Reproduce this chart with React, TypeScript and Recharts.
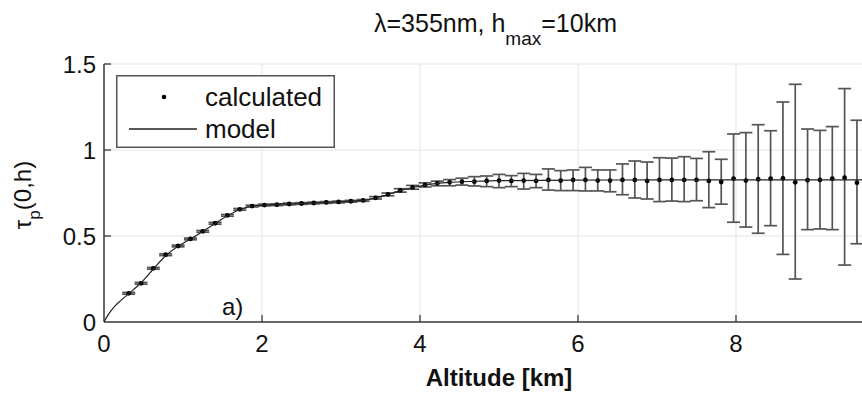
import React from 'react';
import { ComposedChart, Scatter, XAxis, YAxis, CartesianGrid, ErrorBar, Legend } from 'recharts';

// Altitude (km) of each calculated point
const altitudes = [
  0.313, 0.469, 0.625, 0.781, 0.938, 1.094, 1.25, 1.406, 1.563, 1.719,
  1.875, 2.031, 2.188, 2.344, 2.5, 2.656, 2.813, 2.969, 3.125, 3.281,
  3.438, 3.594, 3.75, 3.906, 4.063, 4.219, 4.375, 4.531, 4.688, 4.844,
  5.0, 5.156, 5.313, 5.469, 5.625, 5.781, 5.938, 6.094, 6.25, 6.406,
  6.563, 6.719, 6.875, 7.031, 7.188, 7.344, 7.5, 7.656, 7.813, 7.969,
  8.125, 8.281, 8.438, 8.594, 8.75, 8.906, 9.063, 9.219, 9.375, 9.531,
];

// Calculated optical depth tau_p(0,h)
const tauCalculated = [
  0.167, 0.225, 0.312, 0.391, 0.442, 0.483, 0.527, 0.574, 0.62, 0.655,
  0.674, 0.68, 0.682, 0.686, 0.689, 0.692, 0.695, 0.698, 0.702, 0.707,
  0.722, 0.742, 0.765, 0.783, 0.797, 0.806, 0.812, 0.816, 0.816, 0.82,
  0.822, 0.82, 0.822, 0.82, 0.826, 0.822, 0.826, 0.826, 0.822, 0.822,
  0.826, 0.826, 0.82, 0.826, 0.826, 0.826, 0.826, 0.82, 0.814, 0.833,
  0.822, 0.83, 0.833, 0.835, 0.812, 0.824, 0.826, 0.833, 0.839, 0.81,
];

const errBelow = [
  0.005, 0.005, 0.005, 0.005, 0.005, 0.005, 0.005, 0.005, 0.005, 0.005,
  0.005, 0.005, 0.005, 0.005, 0.005, 0.005, 0.005, 0.005, 0.005, 0.005,
  0.007, 0.008, 0.01, 0.011, 0.012, 0.014, 0.02, 0.02, 0.025, 0.033,
  0.041, 0.033, 0.049, 0.039, 0.059, 0.058, 0.062, 0.064, 0.06, 0.065,
  0.086, 0.105, 0.105, 0.126, 0.123, 0.126, 0.121, 0.155, 0.129, 0.253,
  0.27, 0.314, 0.273, 0.442, 0.562, 0.287, 0.285, 0.296, 0.508, 0.355,
];

const errAbove = [
  0.005, 0.005, 0.005, 0.005, 0.005, 0.005, 0.005, 0.005, 0.005, 0.005,
  0.005, 0.005, 0.005, 0.005, 0.005, 0.005, 0.005, 0.005, 0.005, 0.005,
  0.007, 0.008, 0.01, 0.011, 0.012, 0.013, 0.016, 0.02, 0.029, 0.029,
  0.036, 0.031, 0.042, 0.038, 0.064, 0.058, 0.058, 0.073, 0.062, 0.062,
  0.093, 0.11, 0.11, 0.129, 0.127, 0.135, 0.125, 0.17, 0.132, 0.26,
  0.279, 0.317, 0.279, 0.444, 0.57, 0.298, 0.288, 0.303, 0.518, 0.363,
];

// Model curve
const modelAltitudes = [
  0, 0.05, 0.1, 0.15, 0.2, 0.313, 0.469, 0.625, 0.781, 0.938,
  1.094, 1.25, 1.406, 1.563, 1.719, 1.875, 2.031, 2.5, 3.0, 3.281,
  3.438, 3.594, 3.75, 3.906, 4.063, 4.219, 4.375, 4.688, 5.0, 6.0,
  7.0, 8.0, 9.0, 10.0,
];
const modelTau = [
  0, 0.04, 0.072, 0.098, 0.12, 0.165, 0.228, 0.308, 0.385, 0.44,
  0.482, 0.526, 0.572, 0.618, 0.654, 0.673, 0.679, 0.689, 0.699, 0.707,
  0.721, 0.741, 0.764, 0.782, 0.796, 0.806, 0.812, 0.818, 0.822, 0.825,
  0.826, 0.826, 0.826, 0.826,
];

const xTicks = [0, 2, 4, 6, 8];
const yTicks = [0, 0.5, 1, 1.5];

const calcData = altitudes.map((h, i) => ({ h, tau: tauCalculated[i], err: [errBelow[i], errAbove[i]] }));
const modelData = modelAltitudes.map((h, i) => ({ h, tau: modelTau[i] }));

const FONT = '"Liberation Sans", Arial, Helvetica, sans-serif';
const AXIS = '#3a3a3a';

const XTick = (props: any) => {
  const { x, y, payload } = props;
  const axisY = y - 10;
  return (
    <g>
      {payload.value !== 0 && (
        <line x1={x} x2={x} y1={axisY} y2={axisY - 7} stroke={AXIS} strokeWidth={1.3} />
      )}
      <text x={x} y={axisY + 30} textAnchor="middle" fontSize={24} fill="#111" fontFamily={FONT}>
        {payload.value}
      </text>
    </g>
  );
};

const YTick = (props: any) => {
  const { x, y, payload } = props;
  const axisX = x + 8;
  return (
    <g>
      {payload.value !== 0 && (
        <line x1={axisX} x2={axisX + 7} y1={y} y2={y} stroke={AXIS} strokeWidth={1.3} />
      )}
      <text x={x} y={y + 8.5} textAnchor="end" fontSize={24} fill="#111" fontFamily={FONT}>
        {payload.value}
      </text>
    </g>
  );
};

const renderLegend = (props: any) => {
  const names = (props.payload || []).map((p: any) => p.value);
  const rows = ['calculated', 'model'].filter((n) => names.includes(n));
  return (
    <svg width={219} height={73} style={{ display: 'block' }}>
      <rect x={0.75} y={0.75} width={217.5} height={71.5} fill="#fff" stroke="#555" strokeWidth={1.5} />
      {rows.map((name, i) => {
        const cy = 22 + i * 32;
        return (
          <g key={name}>
            {name === 'calculated' ? (
              <circle cx={48} cy={cy} r={2.3} fill="#000" />
            ) : (
              <line x1={13} x2={81} y1={cy} y2={cy} stroke="#222" strokeWidth={1.3} />
            )}
            <text x={89} y={cy + 8.5} fontSize={26} fill="#111" fontFamily={FONT}>
              {name}
            </text>
          </g>
        );
      })}
    </svg>
  );
};

const Dot = (p: any) => <circle cx={p.cx} cy={p.cy} r={2.4} fill="#000" />;
const NoShape = () => <g />;

export default function App() {
  return (
    <div style={{ position: 'absolute', left: 0, top: 0, width: 862, height: 394, overflow: 'hidden', background: '#fff' }}>
      <ComposedChart width={900} height={394} margin={{ top: 64, right: 6, bottom: 0, left: 0 }}>
        <CartesianGrid stroke="#e4e4e4" strokeWidth={1} />
        <XAxis
          dataKey="h"
          type="number"
          domain={[0, 10]}
          ticks={xTicks}
          allowDataOverflow
          height={72}
          tickSize={0}
          tickMargin={10}
          tickLine={false}
          axisLine={{ stroke: AXIS, strokeWidth: 1.5 }}
          tick={<XTick />}
          label={{
            content: (lp: any) => {
              const vb = lp.viewBox || { x: 104, width: 790 };
              return (
                <text x={vb.x + vb.width / 2} y={386} textAnchor="middle" fontSize={24} fontWeight="bold" fill="#111" fontFamily={FONT}>
                  Altitude [km]
                </text>
              );
            },
          }}
        />
        <YAxis
          dataKey="tau"
          type="number"
          domain={[0, 1.5]}
          ticks={yTicks}
          allowDataOverflow
          width={104}
          tickSize={0}
          tickMargin={8}
          tickLine={false}
          axisLine={{ stroke: AXIS, strokeWidth: 1.5 }}
          tick={<YTick />}
          label={{
            content: () => (
              <text transform="translate(31,195) rotate(-90)" textAnchor="middle" fontSize={24} fill="#111" fontFamily={FONT}>
                τ<tspan fontSize={17} dy={9}>p</tspan>
                <tspan dy={-9}>(0,h)</tspan>
              </text>
            ),
          }}
        />
        <Legend
          layout="vertical"
          align="center"
          verticalAlign="middle"
          content={renderLegend}
          wrapperStyle={{ left: 116, top: 75, width: 219, height: 73 }}
        />
        <Scatter
          name="calculated"
          data={calcData}
          dataKey="tau"
          shape={Dot}
          legendType="circle"
          isAnimationActive={false}
        >
          <ErrorBar dataKey="err" direction="y" width={6.5} stroke="#555" strokeWidth={1.7} isAnimationActive={false} />
        </Scatter>
        <Scatter
          name="model"
          data={modelData}
          dataKey="tau"
          shape={NoShape}
          line={{ stroke: '#222', strokeWidth: 1.2 }}
          lineType="joint"
          lineJointType="monotoneX"
          legendType="line"
          isAnimationActive={false}
        />
      </ComposedChart>
      <svg width={862} height={394} style={{ position: 'absolute', left: 0, top: 0, pointerEvents: 'none' }}>
        <text x={617} y={32} textAnchor="end" fontSize={25} fill="#111" fontFamily={FONT}>
          λ=355nm, h<tspan fontSize={19} dy={13}>max</tspan>
          <tspan dy={-13}>=10km</tspan>
        </text>
        <text x={222} y={315} fontSize={24} fill="#111" fontFamily={FONT}>
          a)
        </text>
      </svg>
    </div>
  );
}
